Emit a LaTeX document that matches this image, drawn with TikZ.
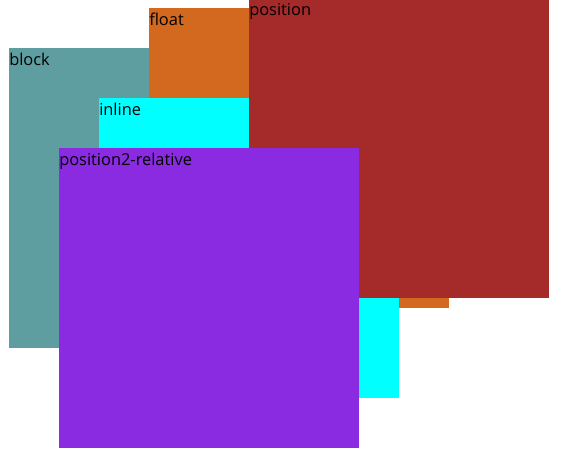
\documentclass[tikz,border=0pt]{standalone}
\usepackage{fontspec}
\setmainfont{Open Sans}
\definecolor{cblue}{HTML}{5F9EA0}
\definecolor{choc}{HTML}{D2691E}
\definecolor{brn}{HTML}{A52A2A}
\definecolor{cyanc}{HTML}{00FFFF}
\definecolor{bviolet}{HTML}{8A2BE2}
\tikzset{
  box/.style={inner sep=0pt, outer sep=0pt, minimum width=225pt, minimum height=225pt, anchor=north west},
  lbl/.style={inner sep=0pt, anchor=base west, font=\fontsize{12.3pt}{14pt}\selectfont, text=black}
}
\begin{document}
\begin{tikzpicture}[x=0.75pt,y=-0.75pt]
\useasboundingbox (0,0) rectangle (577,468);
\begin{scope}
\clip (0,0) rectangle (577,468);
\node[box, fill=cblue] (block) at (9,48) {};
\node[lbl] (blockl) at (9,65.7) {block};
\node[box, fill=choc] (float) at (149,8) {};
\node[lbl] (floatl) at (149,25.7) {float};
\node[box, fill=cyanc] (inline) at (99,98) {};
\node[lbl] (inlinel) at (99,115.7) {inline};
\node[box, fill=brn] (position) at (249,-2) {};
\node[lbl] (positionl) at (249,15.7) {position};
\node[box, fill=bviolet] (rel) at (59,148) {};
\node[lbl] (rell) at (59,165.7) {position2-relative};
\end{scope}
\end{tikzpicture}
\end{document}
